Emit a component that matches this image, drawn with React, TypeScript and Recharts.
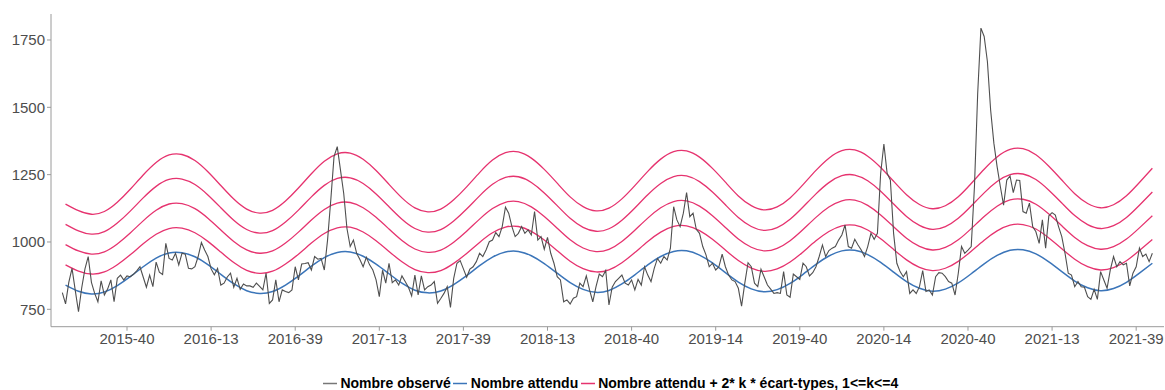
import React from 'react';
import { LineChart, Line, XAxis, YAxis } from 'recharts';

// Semaines affichées sur l'axe (index 0 = première semaine de la série)
const weekTicks = [20, 46, 72, 98, 124, 150, 176, 202, 228, 254, 280, 306, 332];
const weekLabels = [
  '2015-40', '2016-13', '2016-39', '2017-13', '2017-39', '2018-13', '2018-40',
  '2019-14', '2019-40', '2020-14', '2020-40', '2021-13', '2021-39',
];

const yTicks = [750, 1000, 1250, 1500, 1750];

// Nombre observé, une valeur par semaine
const observed = [
  812, 770, 850, 902, 820, 741, 830, 900, 946, 850,
  809, 778, 856, 803, 825, 859, 778, 865, 877, 859,
  874, 871, 880, 893, 908, 870, 832, 877, 834, 925,
  888, 879, 995, 939, 933, 958, 915, 958, 955, 902,
  900, 908, 946, 998, 970, 946, 900, 878, 902, 840,
  847, 870, 884, 832, 865, 824, 844, 837, 837, 832,
  847, 835, 822, 884, 772, 785, 859, 778, 822, 816,
  812, 822, 908, 859, 918, 920, 923, 896, 946, 936,
  939, 896, 1007, 1156, 1317, 1354, 1267, 1180, 1050, 983,
  1007, 958, 935, 908, 943, 915, 896, 859, 797, 895,
  847, 921, 849, 859, 840, 874, 853, 832, 800, 877,
  803, 874, 822, 834, 840, 853, 772, 790, 809, 834,
  757, 865, 921, 931, 900, 869, 899, 908, 927, 958,
  946, 970, 1001, 1007, 1035, 1020, 1057, 1129, 1107, 1057,
  1020, 1032, 1057, 1032, 1045, 1026, 1113, 1007, 1020, 973,
  1017, 958, 921, 871, 859, 778, 785, 770, 791, 797,
  847, 834, 874, 822, 778, 834, 881, 871, 894, 766,
  832, 853, 865, 877, 847, 840, 859, 822, 861, 840,
  908, 877, 853, 902, 939, 921, 946, 933, 977, 1131,
  1082, 1057, 1107, 1183, 1094, 1107, 1047, 1032, 983, 952,
  908, 921, 896, 908, 955, 908, 877, 859, 853, 828,
  762, 847, 923, 908, 847, 834, 899, 870, 840, 825,
  809, 812, 809, 890, 803, 795, 881, 871, 861, 921,
  908, 874, 886, 908, 946, 989, 946, 968, 977, 983,
  1007, 1026, 1063, 983, 977, 1010, 989, 970, 946, 983,
  1032, 1010, 1032, 1255, 1364, 1255, 1230, 1032, 921, 890,
  871, 890, 809, 822, 809, 834, 894, 816, 822, 803,
  871, 886, 884, 871, 853, 847, 803, 884, 983, 958,
  970, 983, 1206, 1552, 1794, 1763, 1670, 1490, 1367, 1280,
  1206, 1137, 1230, 1245, 1183, 1230, 1228, 1113, 1107, 1144,
  1057, 1038, 995, 1082, 977, 1097, 1109, 1100, 1057, 1020,
  958, 884, 877, 834, 853, 834, 832, 797, 787, 824,
  787, 890, 859, 828, 896, 946, 908, 927, 915, 921,
  837, 884, 908, 977, 946, 955, 927, 958,
];

// Nombre attendu et écart-type, relevés toutes les 4 semaines (à partir de la semaine 1)
const SAMPLE_STEP = 4;
const expected = [
  840, 817, 807, 814, 838, 871, 908, 940, 959, 960, 945, 916, 880,
  845, 819, 809, 816, 840, 873, 910, 942, 961, 963, 947, 918, 882,
  847, 821, 811, 818, 842, 875, 912, 944, 963, 965, 949, 920, 884,
  849, 824, 813, 820, 844, 878, 915, 946, 965, 967, 951, 922, 886,
  851, 826, 815, 823, 846, 880, 917, 948, 967, 969, 953, 924, 888,
  853, 828, 817, 825, 848, 882, 919, 950, 969, 971, 956, 926, 890,
  855, 830, 819, 827, 850, 884, 921,
];
const ecartType = [
  37.6, 37.4, 37.0, 37.4, 38.7, 40.6, 42.6, 44.4, 45.5, 45.6, 44.7, 43.1, 41.2,
  39.3, 37.9, 37.3, 37.7, 39.0, 40.9, 42.9, 44.7, 45.8, 45.9, 45.0, 43.4, 41.5,
  39.6, 38.2, 37.6, 38.0, 39.3, 41.2, 43.2, 45.0, 46.1, 46.2, 45.3, 43.7, 41.8,
  39.8, 38.4, 37.8, 38.2, 39.5, 41.4, 43.4, 45.2, 46.3, 46.4, 45.5, 43.9, 42.0,
  40.0, 38.6, 38.0, 38.4, 39.7, 41.6, 43.6, 45.4, 46.5, 46.6, 45.7, 44.1, 42.2,
  40.3, 38.9, 38.3, 38.7, 40.0, 41.9, 43.9, 45.7, 46.8, 46.9, 46.0, 44.4, 42.5,
  40.5, 39.1, 38.5, 38.9, 40.2, 42.1, 44.1,
];

const K_VALUES = [1, 2, 3, 4];

const COLORS = {
  observed: '#4f4f4f',
  expected: '#3b75b9',
  threshold: '#e6336f',
  axis: '#9a9a9a',
  tickText: '#4d4d4d',
};

type Row = { week: number; observed: number; [key: string]: number | null };

const rows: Row[] = observed.map((value, week) => {
  const row: Row = { week, observed: value, expected: null };
  K_VALUES.forEach((k) => (row[`lim${k}`] = null));
  if ((week - 1) % SAMPLE_STEP === 0) {
    const j = (week - 1) / SAMPLE_STEP;
    if (j < expected.length) {
      row.expected = expected[j];
      K_VALUES.forEach((k) => (row[`lim${k}`] = expected[j] + 2 * k * ecartType[j]));
    }
  }
  return row;
});

const X_DOMAIN: [number, number] = [-3.5, 340.6];
const Y_DOMAIN: [number, number] = [685.4, 1846.5];

const legendItems = [
  { label: 'Nombre observé', color: '#777777' },
  { label: 'Nombre attendu', color: COLORS.expected },
  { label: 'Nombre attendu + 2* k * écart-types, 1<=k<=4', color: COLORS.threshold },
];

function ChartLegend() {
  return (
    <div
      style={{
        position: 'absolute',
        left: 323,
        top: 375,
        display: 'flex',
        alignItems: 'center',
        fontWeight: 'bold',
        fontSize: 14,
        lineHeight: '16px',
        color: '#000',
        whiteSpace: 'nowrap',
      }}
    >
      {legendItems.map((item) => (
        <div key={item.label} style={{ display: 'flex', alignItems: 'center', marginRight: 2.6 }}>
          <svg width={14} height={16} style={{ marginRight: 3.4, display: 'block' }}>
            <line x1={0} x2={14} y1={8.5} y2={8.5} stroke={item.color} strokeWidth={1.5} />
          </svg>
          <span>{item.label}</span>
        </div>
      ))}
    </div>
  );
}

export default function App() {
  return (
    <div
      style={{
        position: 'absolute',
        left: 0,
        top: 0,
        width: 1165,
        height: 390,
        background: '#fff',
        fontFamily: '"Liberation Sans", Arial, Helvetica, sans-serif',
      }}
    >
      <LineChart width={1165} height={390} data={rows} margin={{ top: 14, right: 1, bottom: 0, left: 0 }}>
        <XAxis
          xAxisId="bottom"
          type="number"
          dataKey="week"
          domain={X_DOMAIN}
          allowDataOverflow
          ticks={weekTicks}
          interval={0}
          tickFormatter={(w: number) => weekLabels[weekTicks.indexOf(w)] ?? ''}
          height={63.3}
          tickSize={4}
          tickMargin={3}
          stroke={COLORS.axis}
          tick={{ fill: COLORS.tickText, fontSize: 15 }}
        />
        <XAxis
          xAxisId="top"
          orientation="top"
          type="number"
          dataKey="week"
          domain={X_DOMAIN}
          allowDataOverflow
          height={0}
          tick={false}
          tickLine={false}
          stroke={COLORS.axis}
        />
        <YAxis
          yAxisId="left"
          type="number"
          domain={Y_DOMAIN}
          allowDataOverflow
          ticks={yTicks}
          interval={0}
          width={51}
          tickSize={4}
          tickMargin={2}
          stroke={COLORS.axis}
          tick={{ fill: COLORS.tickText, fontSize: 15 }}
        />
        <YAxis
          yAxisId="right"
          orientation="right"
          type="number"
          domain={Y_DOMAIN}
          width={0}
          tick={false}
          tickLine={false}
          stroke="#d8d8d8"
        />
        {K_VALUES.map((k) => (
          <Line
            key={k}
            xAxisId="bottom"
            yAxisId="left"
            type="natural"
            dataKey={`lim${k}`}
            stroke={COLORS.threshold}
            strokeWidth={1.3}
            dot={false}
            connectNulls
            isAnimationActive={false}
          />
        ))}
        <Line
          xAxisId="bottom"
          yAxisId="left"
          type="natural"
          dataKey="expected"
          stroke={COLORS.expected}
          strokeWidth={1.5}
          dot={false}
          connectNulls
          isAnimationActive={false}
        />
        <Line
          xAxisId="bottom"
          yAxisId="left"
          type="linear"
          dataKey="observed"
          stroke={COLORS.observed}
          strokeWidth={1.1}
          dot={false}
          isAnimationActive={false}
        />
      </LineChart>
      <ChartLegend />
    </div>
  );
}
